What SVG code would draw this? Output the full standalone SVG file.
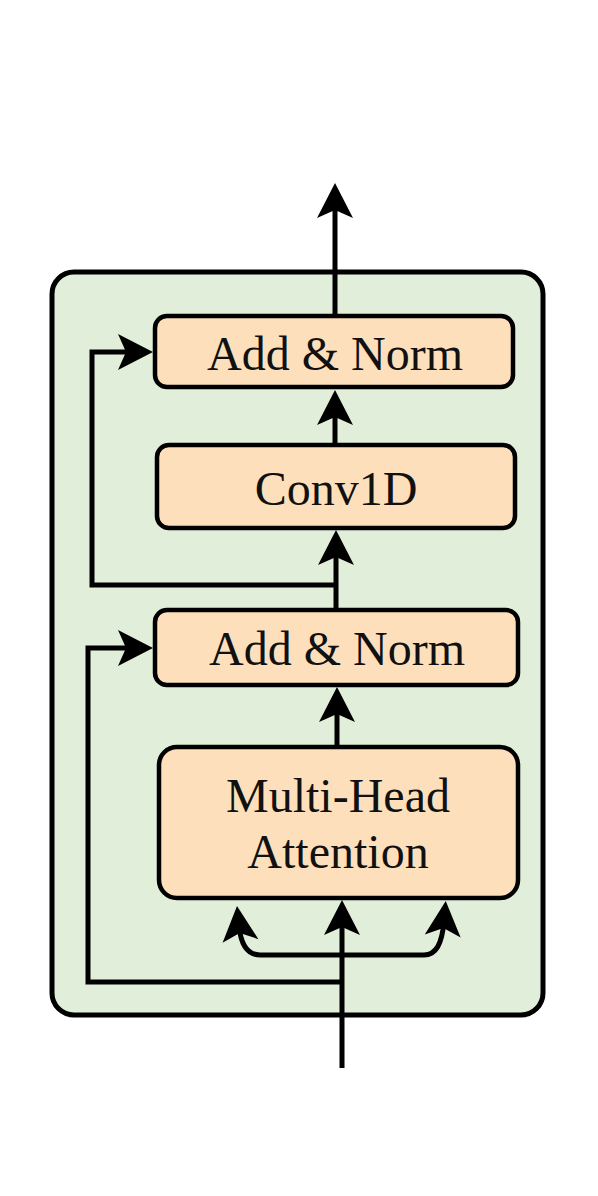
<svg xmlns="http://www.w3.org/2000/svg" width="598" height="1196" viewBox="0 0 598 1196">
<style>
.box{fill:#fde0bb;stroke:#000;stroke-width:4.5}
.lbl{font-family:"Liberation Serif","Times New Roman",serif;font-size:48px;fill:#111;text-anchor:middle}
.ln{fill:none;stroke:#000;stroke-width:5;marker-end:url(#ah)}
.pl{fill:none;stroke:#000;stroke-width:5}
</style>
<defs>
<marker id="ah" markerUnits="userSpaceOnUse" orient="auto" refX="0" refY="0" markerWidth="60" markerHeight="60" overflow="visible">
<path d="M20,0 L-15,-18 L-7,0 L-15,18 Z" fill="#000"/>
</marker>
</defs>
<rect width="598" height="1196" fill="#fff"/>
<g id="container">
<rect x="52" y="272" width="491" height="743" rx="22" fill="#e1eed9" stroke="#000" stroke-width="5"/>
</g>
<g id="connectors">
<path class="ln" d="M335,316 V203"/>
<path class="ln" d="M335,445 V410"/>
<path class="ln" d="M336,610 V550"/>
<path class="ln" d="M336,585 H92 V352 H133"/>
<path class="ln" d="M337,747 V707"/>
<path class="ln" d="M342,982 H88 V648 H133"/>
<path class="ln" d="M342,1068 V920"/>
<path class="ln" d="M342,955 H260 C248,955 241,946 239,926"/>
<path class="ln" d="M342,955 H424 C436,955 442,944 444,921"/>
</g>
<g id="addnorm1">
<rect class="box" x="155" y="316" width="358" height="71" rx="12"/>
<text class="lbl" x="335" y="370">Add &amp; Norm</text>
</g>
<g id="conv1d">
<rect class="box" x="157" y="445" width="358" height="83" rx="12"/>
<text class="lbl" x="336" y="505">Conv1D</text>
</g>
<g id="addnorm2">
<rect class="box" x="155" y="610" width="363" height="75" rx="12"/>
<text class="lbl" x="337" y="665">Add &amp; Norm</text>
</g>
<g id="mha">
<rect class="box" x="159" y="747" width="359" height="151" rx="18"/>
<text class="lbl" x="338" y="812">Multi-Head</text>
<text class="lbl" x="338" y="868">Attention</text>
</g>
</svg>
